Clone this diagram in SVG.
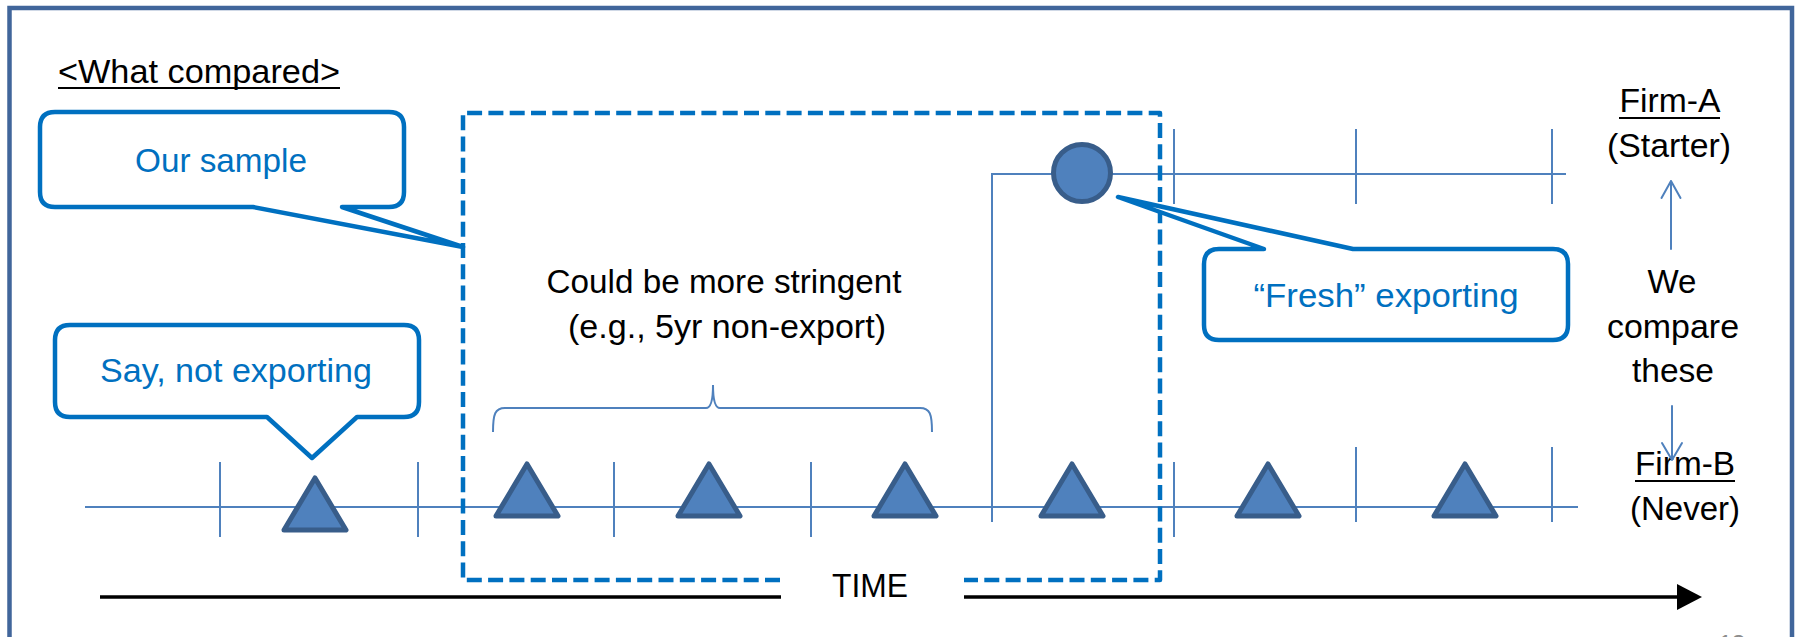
<svg xmlns="http://www.w3.org/2000/svg" width="1799" height="637" viewBox="0 0 1799 637">
  <defs>
    <style>
      .txt { font-family: "Liberation Sans", Arial, sans-serif; font-size: 33px; fill: #000; }
      .blue { fill: #0070c0; }
      .callout { fill: #fff; stroke: #0070c0; stroke-width: 4.5; stroke-linejoin: round; }
      .window { fill: none; stroke: #0070c0; stroke-width: 4.5; stroke-dasharray: 15 6.3; stroke-linejoin: round; }
      .axis { fill: none; stroke: #4f81bd; stroke-width: 2; }
      .mark { fill: #4f81bd; stroke: #385d8a; stroke-width: 5; stroke-linejoin: round; }
      .uline { stroke: #000; stroke-width: 2; }
    </style>
    <path id="tri" d="M0,0 L31,52 L-31,52 Z"/>
  </defs>

  <rect width="1799" height="637" fill="#fff"/>

  <!-- slide frame -->
  <g id="frame">
    <rect x="9.5" y="8" width="1782.5" height="700" fill="none" stroke="#41669b" stroke-width="4.5"/>
    <text x="1732" y="652" text-anchor="middle" style="font-family:'Liberation Sans',Arial,sans-serif;font-size:24px;fill:#8c8c8c">13</text>
  </g>

  <!-- heading -->
  <g id="title">
    <text class="txt" x="58" y="83" textLength="282" lengthAdjust="spacingAndGlyphs">&lt;What compared&gt;</text>
    <line class="uline" x1="58" y1="88" x2="340" y2="88"/>
  </g>

  <!-- Firm-B timeline (lower) -->
  <g id="timeline-firm-b">
    <line class="axis" x1="85" y1="507" x2="1578" y2="507"/>
    <g class="axis">
      <line x1="220" y1="462" x2="220" y2="537"/>
      <line x1="418" y1="462" x2="418" y2="537"/>
      <line x1="614" y1="462" x2="614" y2="537"/>
      <line x1="811" y1="462" x2="811" y2="537"/>
      <line x1="1174" y1="462" x2="1174" y2="537"/>
      <line x1="1356" y1="447" x2="1356" y2="522"/>
      <line x1="1552" y1="447" x2="1552" y2="522"/>
    </g>
    <use href="#tri" class="mark" x="315" y="478"/>
    <use href="#tri" class="mark" x="527" y="464"/>
    <use href="#tri" class="mark" x="709" y="464"/>
    <use href="#tri" class="mark" x="905" y="464"/>
    <use href="#tri" class="mark" x="1072" y="464"/>
    <use href="#tri" class="mark" x="1268" y="464"/>
    <use href="#tri" class="mark" x="1465" y="464"/>
  </g>

  <!-- Firm-A timeline (upper, branching at the export start) -->
  <g id="timeline-firm-a">
    <path class="axis" d="M992,522 V174 H1566"/>
    <g class="axis">
      <line x1="1174" y1="129" x2="1174" y2="204"/>
      <line x1="1356" y1="129" x2="1356" y2="204"/>
      <line x1="1552" y1="129" x2="1552" y2="204"/>
    </g>
  </g>

  <!-- sample window -->
  <g id="sample-window">
    <path class="window" d="M780,580 H463 V113 H1160 V580 H964"/>
    <path class="axis" d="M493,432 C493,414 495,408 505,408 H706 C711,408 713,400 713,385 C713,400 715,408 720,408 H920 C930,408 932,414 932,432"/>
    <text class="txt" x="724" y="293" text-anchor="middle" textLength="355" lengthAdjust="spacingAndGlyphs">Could be more stringent</text>
    <text class="txt" x="727" y="338" text-anchor="middle" textLength="318" lengthAdjust="spacingAndGlyphs">(e.g., 5yr non-export)</text>
  </g>

  <!-- export start marker -->
  <g id="export-start">
    <circle class="mark" cx="1082" cy="173" r="28.5"/>
  </g>

  <!-- callouts -->
  <g id="callout-our-sample">
    <path class="callout" d="M55,112 H389 Q404,112 404,127 V192 Q404,207 389,207 H342 L463,247 L253,207 H55 Q40,207 40,192 V127 Q40,112 55,112 Z"/>
    <text class="txt blue" x="221" y="172" text-anchor="middle" textLength="172" lengthAdjust="spacingAndGlyphs">Our sample</text>
  </g>

  <g id="callout-say">
    <path class="callout" d="M70,325 H404 Q419,325 419,340 V402 Q419,417 404,417 H357 L312,458 L267,417 H70 Q55,417 55,402 V340 Q55,325 70,325 Z"/>
    <text class="txt blue" x="236" y="382" text-anchor="middle" textLength="272" lengthAdjust="spacingAndGlyphs">Say, not exporting</text>
  </g>

  <g id="callout-fresh">
    <path class="callout" d="M1219,249 H1264 L1118,197 L1353,249 H1553 Q1568,249 1568,264 V325 Q1568,340 1553,340 H1219 Q1204,340 1204,325 V264 Q1204,249 1219,249 Z"/>
    <text class="txt blue" x="1386" y="307" text-anchor="middle" textLength="265" lengthAdjust="spacingAndGlyphs">“Fresh” exporting</text>
  </g>

  <!-- firm labels -->
  <g id="label-firm-a">
    <text class="txt" x="1670" y="112" text-anchor="middle" textLength="101" lengthAdjust="spacingAndGlyphs">Firm-A</text>
    <line class="uline" x1="1619" y1="118" x2="1720" y2="118"/>
    <text class="txt" x="1669" y="157" text-anchor="middle" textLength="124" lengthAdjust="spacingAndGlyphs">(Starter)</text>
  </g>

  <g id="label-compare">
    <text class="txt" x="1672" y="293" text-anchor="middle" textLength="49" lengthAdjust="spacingAndGlyphs">We</text>
    <text class="txt" x="1673" y="338" text-anchor="middle" textLength="132" lengthAdjust="spacingAndGlyphs">compare</text>
    <text class="txt" x="1673" y="382" text-anchor="middle" textLength="82" lengthAdjust="spacingAndGlyphs">these</text>
  </g>

  <g id="label-firm-b">
    <text class="txt" x="1685" y="475" text-anchor="middle" textLength="100" lengthAdjust="spacingAndGlyphs">Firm-B</text>
    <line class="uline" x1="1635" y1="481" x2="1735" y2="481"/>
    <text class="txt" x="1685" y="520" text-anchor="middle" textLength="110" lengthAdjust="spacingAndGlyphs">(Never)</text>
  </g>

  <g id="label-time">
    <text class="txt" x="870" y="597" text-anchor="middle" textLength="76" lengthAdjust="spacingAndGlyphs">TIME</text>
  </g>

  <!-- connectors -->
  <g id="connectors">
    <g class="axis" stroke-linecap="round" stroke-linejoin="round">
      <path d="M1671,249 V181 M1661.5,198 L1671,181 L1680.5,198"/>
      <path d="M1672,406 V460 M1662,443 L1672,460 L1682,443"/>
    </g>
    <line x1="100" y1="597" x2="781" y2="597" stroke="#000" stroke-width="3.5"/>
    <line x1="964" y1="597" x2="1680" y2="597" stroke="#000" stroke-width="3.5"/>
    <polygon points="1677,584 1702,597 1677,610" fill="#000"/>
  </g>
</svg>
